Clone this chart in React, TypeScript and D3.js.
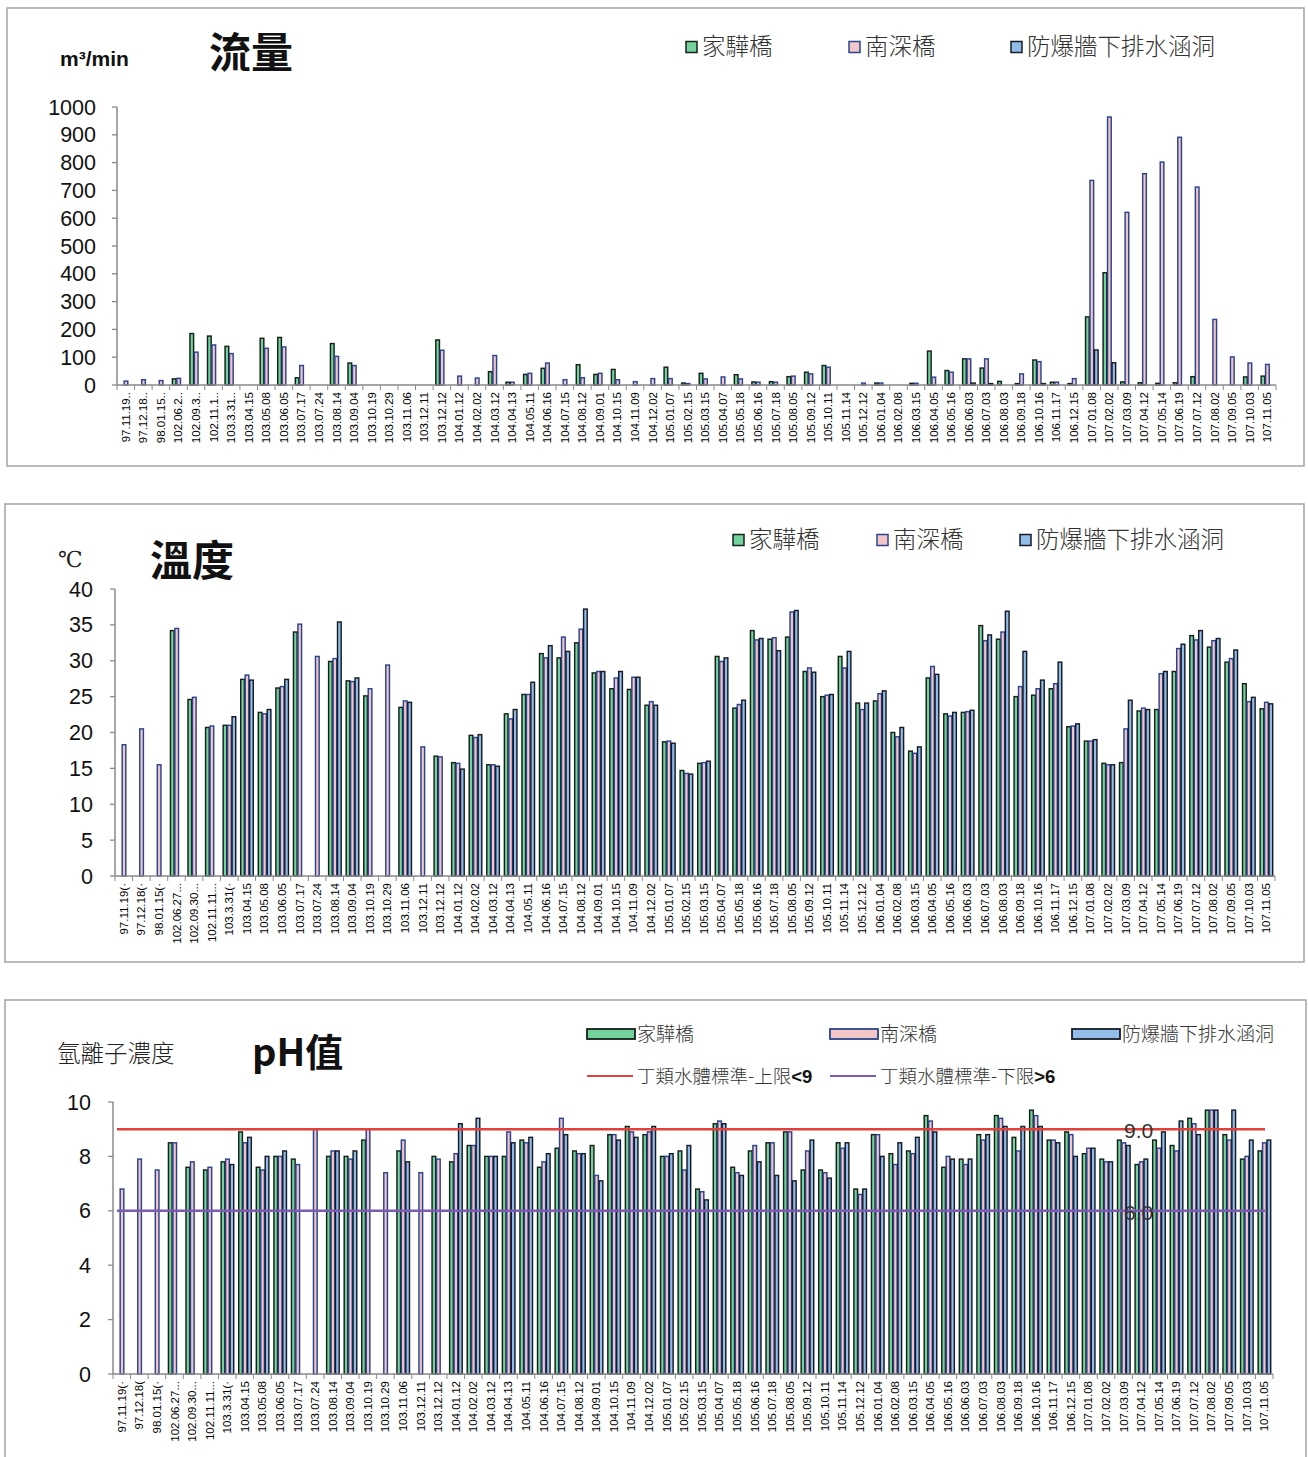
import React from "react";
import * as d3 from "d3";

const categories = [
  "97.11.19","97.12.18","98.01.15","102.06.27","102.09.30","102.11.11","103.3.31",
  "103.04.15","103.05.08","103.06.05","103.07.17","103.07.24","103.08.14","103.09.04",
  "103.10.19","103.10.29","103.11.06","103.12.11","103.12.12","104.01.12","104.02.02",
  "104.03.12","104.04.13","104.05.11","104.06.16","104.07.15","104.08.12","104.09.01",
  "104.10.15","104.11.09","104.12.02","105.01.07","105.02.15","105.03.15","105.04.07",
  "105.05.18","105.06.16","105.07.18","105.08.05","105.09.12","105.10.11","105.11.14",
  "105.12.12","106.01.04","106.02.08","106.03.15","106.04.05","106.05.16","106.06.03",
  "106.07.03","106.08.03","106.09.18","106.10.16","106.11.17","106.12.15","107.01.08",
  "107.02.02","107.03.09","107.04.12","107.05.14","107.06.19","107.07.12","107.08.02",
  "107.09.05","107.10.03","107.11.05",
];
const flowLabelHead = ["97.11.19..","97.12.18..","98.01.15..","102.06.2..","102.09.3..","102.11.1..","103.3.31.."];
const tempLabelHead = ["97.11.19(·","97.12.18(·","98.01.15(·","102.06.27...","102.09.30...","102.11.11...","103.3.31(·"];
const phLabelHead = ["97.11.19(·","97.12.18(","98.01.15(·","102.06.27...","102.09.30...","102.11.11...","103.3.31(·"];

const seriesNames = ["家驊橋", "南深橋", "防爆牆下排水涵洞"];
const limitNames = ["丁類水體標準-上限", "丁類水體標準-下限"];
const limitMarks = ["<9", ">6"];
const phLimits = [9, 6];

const _ = null;
// 流量 m3/min
const flowJia = [_,_,_,22,185,176,139,_,168,171,26,_,149,79,_,_,_,_,162,_,_,48,10,38,60,_,73,38,56,_,_,64,7,42,_,37,11,12,30,46,70,_,_,7,_,6,122,52,94,61,13,5,90,10,5,245,404,11,8,6,8,30,_,_,29,32];
const flowNan = [14,19,16,24,118,144,113,_,132,137,70,_,103,70,_,_,_,_,125,32,25,106,10,42,79,19,26,42,19,12,23,23,5,22,29,22,10,10,32,40,64,_,7,7,_,6,28,46,94,94,_,40,84,10,23,736,964,621,760,802,891,712,236,101,79,74];
const flowFang = [_,_,_,_,_,_,_,_,_,_,_,_,_,_,_,_,_,_,_,_,_,_,_,_,_,_,_,_,_,_,_,_,_,_,_,_,_,_,_,_,_,_,_,_,_,_,_,_,7,5,_,_,5,_,_,126,80,_,_,_,_,_,_,_,_,_];

// 溫度 ℃
const tempJia = [_,_,_,34.2,24.6,20.7,21.0,27.4,22.8,26.2,34.0,_,29.9,27.2,25.1,_,23.5,_,16.7,15.8,19.6,15.5,22.6,25.3,31.0,30.4,32.5,28.3,26.1,26.0,23.8,18.7,14.7,15.7,30.6,23.4,34.2,33.0,33.3,28.5,25.0,30.6,24.1,24.4,20.0,17.4,27.6,22.6,22.8,34.9,33.0,25.0,25.2,26.1,20.8,18.8,15.7,15.8,23.0,23.2,28.5,33.5,31.9,29.8,26.8,23.3];
const tempNan = [18.3,20.5,15.5,34.5,24.9,20.9,21.0,28.0,22.6,26.4,35.1,30.6,30.3,27.1,26.1,29.4,24.4,18.0,16.6,15.7,19.3,15.5,21.9,25.3,30.4,33.3,34.4,28.5,27.6,27.7,24.3,18.8,14.3,15.8,29.9,23.9,32.9,33.2,36.8,29.0,25.2,29.0,23.2,25.4,19.4,17.1,29.2,22.3,22.9,32.8,34.0,26.4,26.1,26.8,20.9,18.8,15.5,20.5,23.4,28.2,31.7,32.9,32.8,30.3,24.3,24.2];
const tempFang = [_,_,_,_,_,_,22.2,27.3,23.2,27.4,_,_,35.4,27.6,_,_,24.2,_,_,14.9,19.7,15.3,23.2,27.0,32.1,31.3,37.2,28.5,28.5,27.7,23.8,18.5,14.2,16.0,30.4,24.5,33.1,31.4,37.0,28.4,25.3,31.3,24.1,25.8,20.7,18.0,28.1,22.8,23.1,33.6,36.9,31.3,27.3,29.8,21.2,19.0,15.5,24.5,23.2,28.5,32.3,34.2,33.1,31.5,24.9,24.0];

// pH
const phJia = [_,_,_,8.5,7.6,7.5,7.8,8.9,7.6,8.0,7.9,_,8.0,8.0,8.6,_,8.2,_,8.0,7.8,8.4,8.0,8.0,8.6,7.6,8.3,8.2,8.4,8.8,9.1,8.8,8.0,8.2,6.8,9.2,7.6,8.2,8.5,8.9,7.5,7.5,8.5,6.8,8.8,8.1,8.2,9.5,7.6,7.9,8.8,9.5,8.7,9.7,8.6,8.9,8.1,7.9,8.6,7.7,8.6,8.4,9.4,9.7,8.8,7.9,8.2];
const phNan = [6.8,7.9,7.5,8.5,7.8,7.6,7.9,8.5,7.5,8.0,7.7,9.0,8.2,7.9,9.0,7.4,8.6,7.4,7.9,8.1,8.4,8.0,8.9,8.5,7.8,9.4,8.1,7.3,8.8,8.9,8.9,8.0,7.5,6.7,9.3,7.4,8.4,8.5,8.9,8.2,7.4,8.3,6.6,8.8,7.7,8.1,9.3,8.0,7.7,8.6,9.4,8.2,9.5,8.6,8.8,8.3,7.8,8.5,7.8,8.3,8.2,9.2,9.7,8.6,8.0,8.5];
const phFang = [_,_,_,_,_,_,7.7,8.7,8.0,8.2,_,_,8.2,8.2,_,_,7.8,_,_,9.2,9.4,8.0,8.5,8.7,8.1,8.8,8.1,7.1,8.6,8.7,9.1,8.1,8.4,6.4,9.2,7.3,7.8,7.3,7.1,8.6,7.2,8.5,6.8,8.0,8.5,8.7,8.9,7.9,7.9,8.8,9.1,9.1,9.1,8.5,8.0,8.3,7.8,8.4,7.9,8.9,9.3,8.8,9.7,9.7,8.6,8.6];

const flowTicks = [0,100,200,300,400,500,600,700,800,900,1000];
const tempTicks = [0,5,10,15,20,25,30,35,40];
const phTicks = [0,2,4,6,8,10];

const FILLS = ["#74d39c", "#f2c6c6", "#92bde9"];
const STROKES = ["#16201a", "#2a4490", "#161b26"];
const NUM = "'Liberation Sans', Arial, sans-serif";
const CJK = "'Noto Sans CJK TC', 'Noto Sans', sans-serif";

type PanelProps = {
  labels: string[];
  data: (number | null)[][];
  ticks: number[];
  x0: number; x1: number; yTop: number; yBottom: number;
  labelRight: number;
};

function BarPanel({ labels, data, ticks, x0, x1, yTop, yBottom, labelRight }: PanelProps) {
  const x = d3.scaleBand<string>().domain(categories).range([x0, x1]).paddingInner(0.24).paddingOuter(0.12);
  const inner = d3.scaleBand<number>().domain([0, 1, 2]).range([0, x.bandwidth()]);
  const y = d3.scaleLinear().domain([ticks[0], ticks[ticks.length - 1]]).range([yBottom, yTop]);
  const step = x.step();
  return (
    <g>
      {ticks.map((t) => (
        <g key={"t" + t}>
          <line x1={x0 - 5} x2={x0} y1={y(t)} y2={y(t)} stroke="#8a8a8a" strokeWidth={1.3} />
          <text x={labelRight} y={y(t) + 7.5} textAnchor="end" fontSize={21.5} fontFamily={NUM} fill="#111">{t}</text>
        </g>
      ))}
      <line x1={x0} x2={x0} y1={yTop} y2={yBottom} stroke="#8a8a8a" strokeWidth={1.5} />
      {categories.map((c, i) =>
        data.map((s, si) => {
          const v = s[i];
          if (v == null) return null;
          const bx = (x(c) as number) + (inner(si) as number);
          return (
            <rect key={c + si} x={bx + 0.6} y={y(v)} width={Math.max(inner.bandwidth() - 0.8, 1)} height={Math.max(y(0) - y(v), 0.5)}
              fill={FILLS[si]} stroke={STROKES[si]} strokeWidth={1.45} />
          );
        })
      )}
      <line x1={x0} x2={x1} y1={yBottom} y2={yBottom} stroke="#8a8a8a" strokeWidth={1.5} />
      {categories.map((c, i) => (
        <line key={"xt" + i} x1={x0 + i * step} x2={x0 + i * step} y1={yBottom} y2={yBottom + 5} stroke="#8a8a8a" strokeWidth={1} />
      ))}
      <line x1={x1} x2={x1} y1={yBottom} y2={yBottom + 5} stroke="#8a8a8a" strokeWidth={1} />
      {categories.map((c, i) => {
        const cx = (x(c) as number) + x.bandwidth() / 2;
        const ty = yBottom + 7;
        return (
          <text key={"xl" + i} transform={`translate(${cx + 4},${ty}) rotate(-90)`} textAnchor="end" fontSize={11.5} fontFamily={NUM} fill="#000">
            {labels[i]}
          </text>
        );
      })}
    </g>
  );
}

function SquareLegend({ xs, y, size, fontSize }: { xs: number[]; y: number; size: number; fontSize: number }) {
  return (
    <g>
      {seriesNames.map((n, i) => (
        <g key={n}>
          <rect x={xs[i]} y={y - size / 2} width={size} height={size} fill={FILLS[i]} stroke={STROKES[i]} strokeWidth={1.5} />
          <text x={xs[i] + size + 5} y={y + fontSize * 0.36} fontSize={fontSize} fontFamily={CJK} fill="#333" fontWeight={300}>{n}</text>
        </g>
      ))}
    </g>
  );
}

export default function App() {
  const flowLabels = categories.map((c, i) => (i < flowLabelHead.length ? flowLabelHead[i] : c));
  const tempLabels = categories.map((c, i) => (i < tempLabelHead.length ? tempLabelHead[i] : c));
  const phLabels = categories.map((c, i) => (i < phLabelHead.length ? phLabelHead[i] : c));
  const phY = d3.scaleLinear().domain([0, 10]).range([1374, 1102]);
  const limitColors = ["#e0413a", "#7b5cb0"];
  return (
    <svg width={1308} height={1457} style={{ position: "absolute", left: 0, top: 0, background: "#fff" }}>
      <rect x={0} y={0} width={1308} height={1457} fill="#fff" />
      {/* Panel 1 */}
      <rect x={7} y={8} width={1297} height={458} fill="#fff" stroke="#a9a9a9" strokeWidth={1.6} />
      <text x={60} y={66} fontSize={21} fontWeight="bold" fontFamily={NUM} fill="#111">m³/min</text>
      <text x={209} y={68} fontSize={42} fontWeight="bold" fontFamily={CJK} fill="#111">流量</text>
      <SquareLegend xs={[686, 849, 1011]} y={47} size={11} fontSize={23.5} />
      <BarPanel labels={flowLabels} data={[flowJia, flowNan, flowFang]} ticks={flowTicks}
        x0={117} x1={1276} yTop={107} yBottom={385} labelRight={96} />

      {/* Panel 2 */}
      <rect x={5} y={504} width={1299} height={458} fill="#fff" stroke="#a9a9a9" strokeWidth={1.6} />
      <text x={58} y={567} fontSize={22} fontFamily="'DejaVu Serif', serif" fill="#222">℃</text>
      <text x={150} y={576} fontSize={42} fontWeight="bold" fontFamily={CJK} fill="#111">溫度</text>
      <SquareLegend xs={[733, 877, 1020]} y={540} size={11} fontSize={23.5} />
      <BarPanel labels={tempLabels} data={[tempJia, tempNan, tempFang]} ticks={tempTicks}
        x0={115} x1={1275} yTop={589} yBottom={876} labelRight={93} />

      {/* Panel 3 */}
      <rect x={5} y={1000} width={1301} height={470} fill="#fff" stroke="#a9a9a9" strokeWidth={1.6} />
      <text x={57} y={1062} fontSize={23.5} fontFamily={CJK} fontWeight={300} fill="#222">氫離子濃度</text>
      <text x={252} y={1066} fontSize={38} fontWeight="bold" fontFamily={CJK} fill="#111">pH值</text>
      {seriesNames.map((n, i) => {
        const lx = [587, 830, 1072][i];
        return (
          <g key={"pl" + n}>
            <rect x={lx} y={1029} width={48} height={10} fill={FILLS[i]} stroke={STROKES[i]} strokeWidth={1.8} />
            <text x={lx + 50} y={1041} fontSize={19} fontFamily={CJK} fontWeight={300} fill="#333">{n}</text>
          </g>
        );
      })}
      {limitNames.map((n, i) => {
        const lx = [587, 830][i];
        return (
          <g key={"ll" + n}>
            <line x1={lx} x2={lx + 46} y1={1076} y2={1076} stroke={limitColors[i]} strokeWidth={2.2} />
            <text x={lx + 50} y={1083} fontSize={18.5} fontFamily={CJK} fontWeight={300} fill="#333">
              {n}
              <tspan fontWeight="bold" fontFamily={NUM} fill="#111">{limitMarks[i]}</tspan>
            </text>
          </g>
        );
      })}
      <BarPanel labels={phLabels} data={[phJia, phNan, phFang]} ticks={phTicks}
        x0={113} x1={1273} yTop={1102} yBottom={1374} labelRight={91} />
      {phLimits.map((v, i) => (
        <g key={"lim" + v}>
          <line x1={117} x2={1265} y1={phY(v)} y2={phY(v)} stroke={limitColors[i]} strokeWidth={2.6} />
          <text x={1124} y={phY(v) + 9} fontSize={21} fontFamily={NUM} fill="#333">{v.toFixed(1)}</text>
        </g>
      ))}
    </svg>
  );
}
